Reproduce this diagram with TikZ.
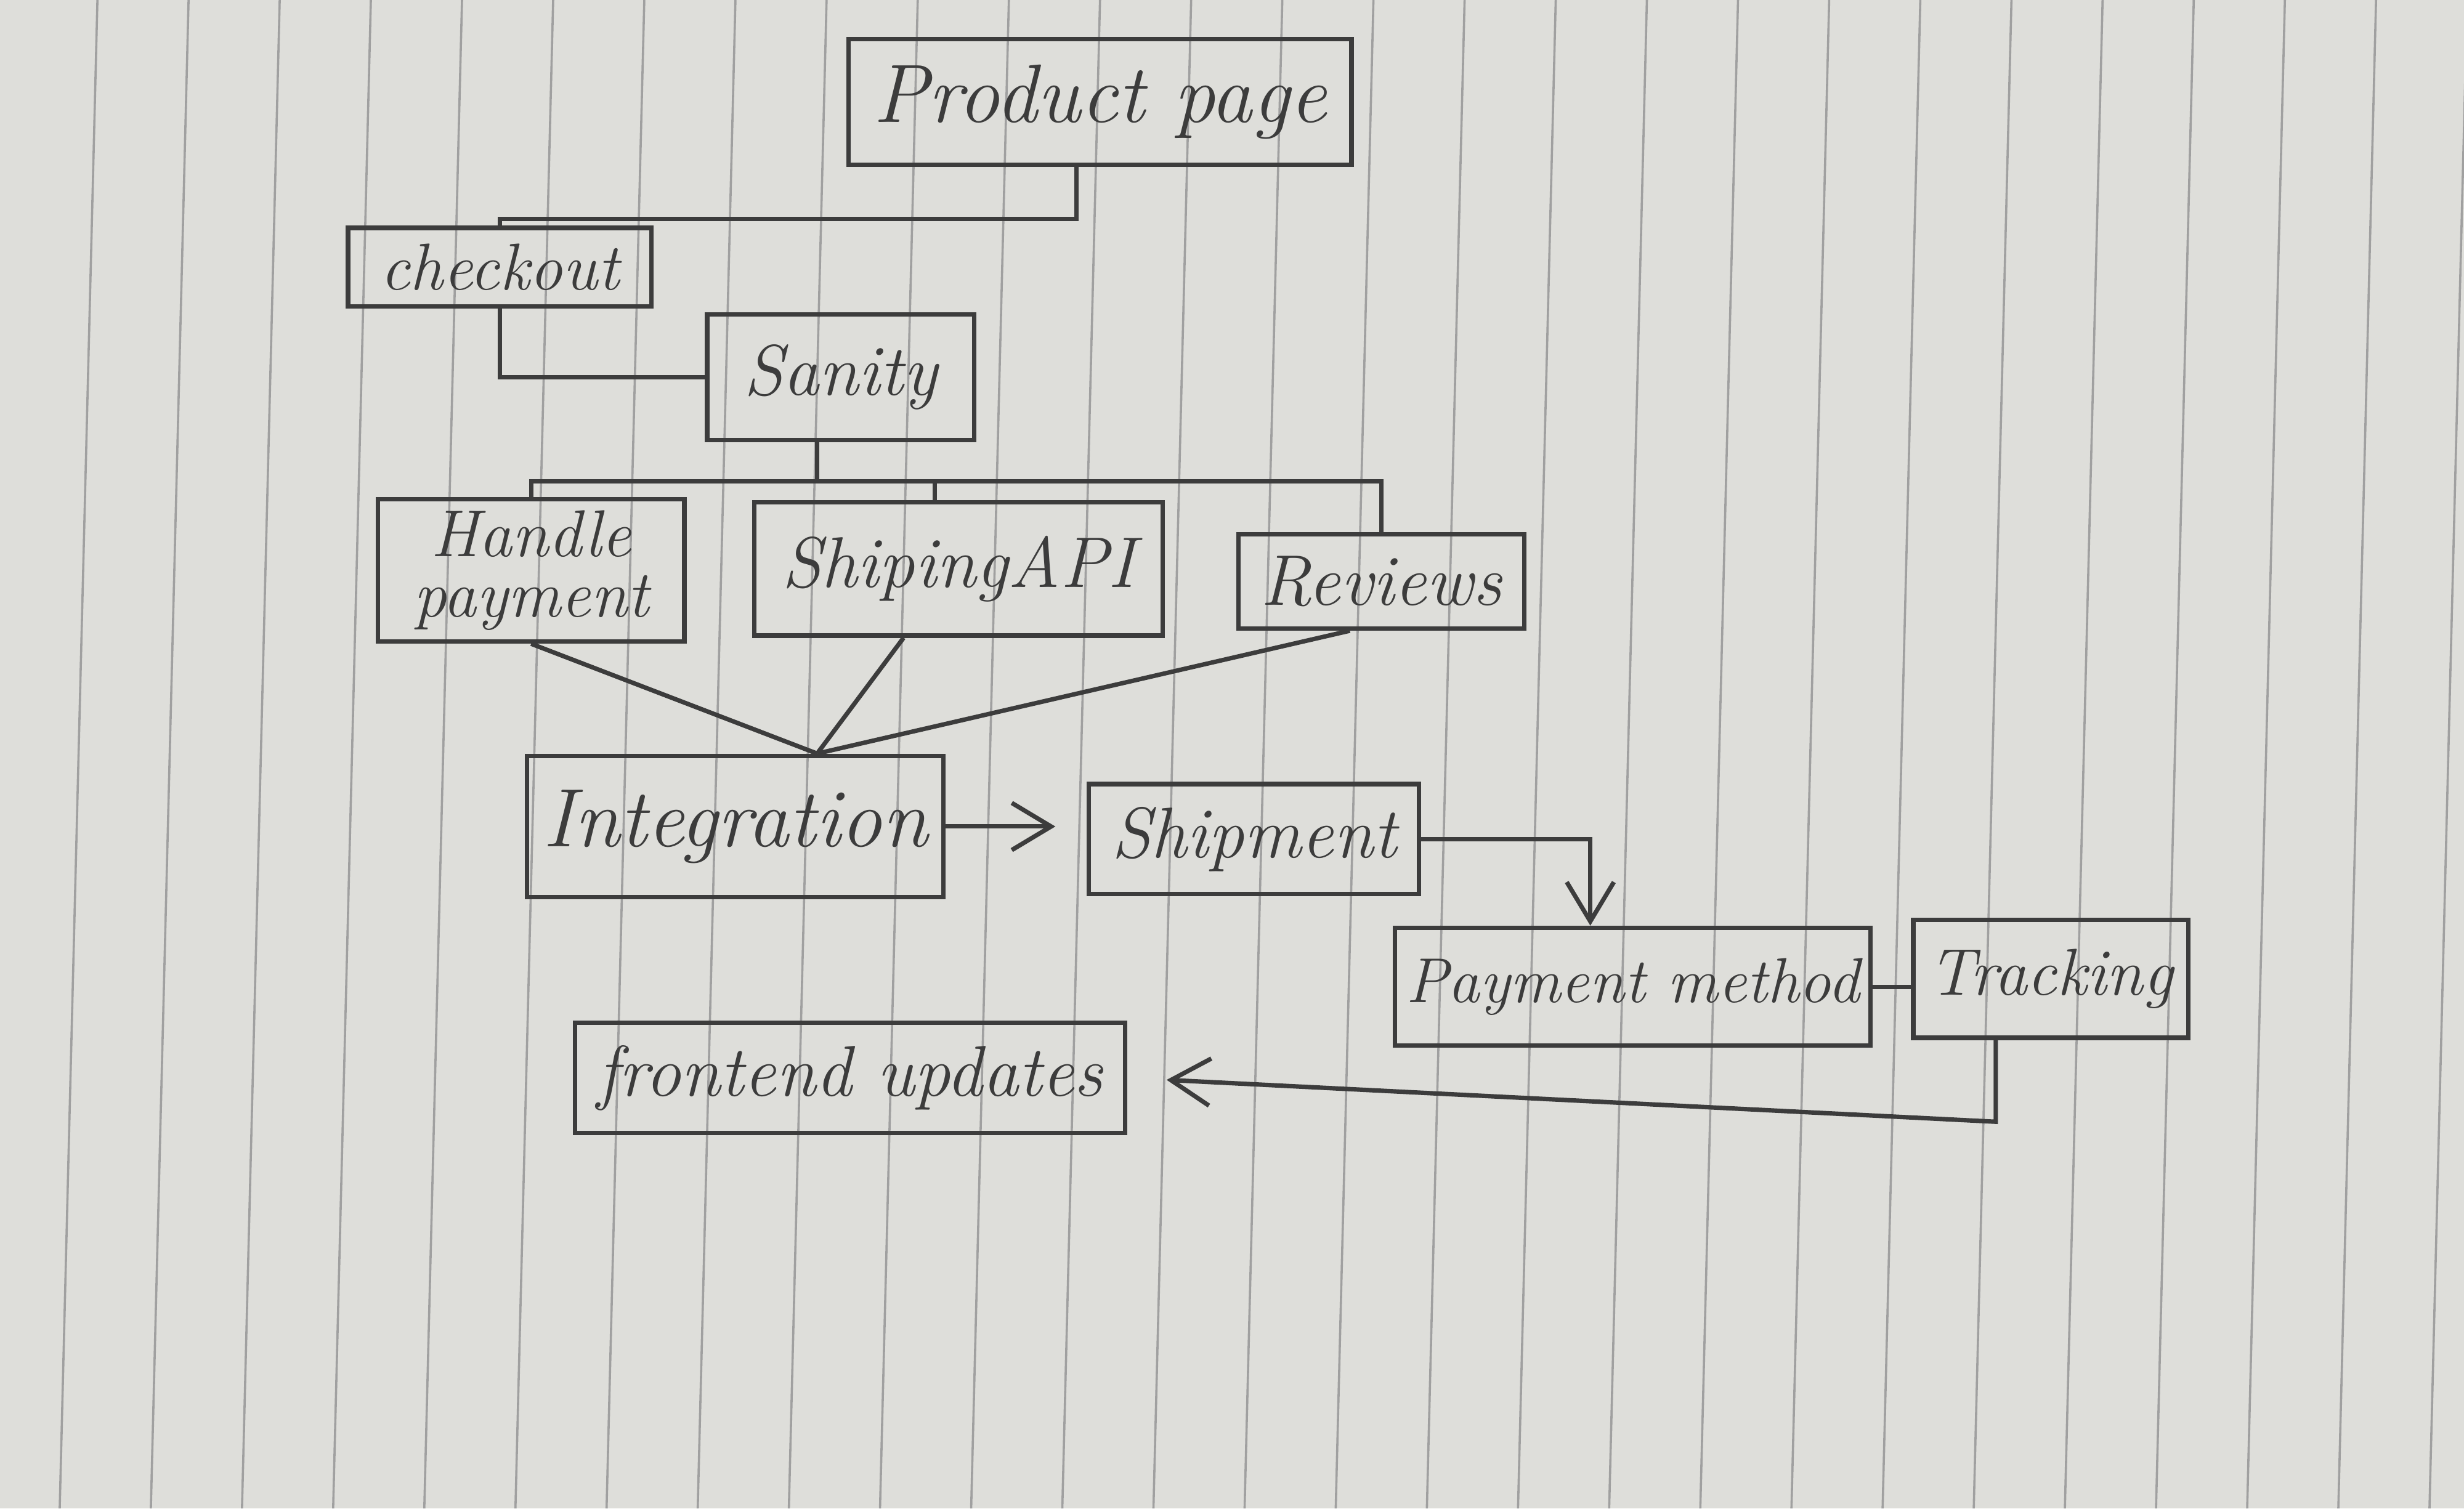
\documentclass[tikz,border=0pt]{standalone}
\usepackage{xcolor}
\usepackage{tikz}
\usetikzlibrary{arrows.meta, positioning, calc}
\definecolor{paperGray}{RGB}{222,222,218}
\definecolor{ruleGray}{RGB}{160,160,160}
\definecolor{pencil}{RGB}{60,60,60}
\tikzstyle{link}  = [draw=pencil, thick]
\tikzstyle{flow}  = [draw=pencil, thick, -{Straight Barb[length=2.5mm, width=3mm]}]

\begin{document}
\begin{tikzpicture}[
  box/.style={draw=pencil, thick, inner sep=2pt, align=center, font=\itshape, text=pencil},
  rule/.style={draw=ruleGray, line width=0.4pt}
]
  % Paper
  \fill[paperGray] (0,0) rectangle (15.68,-9.60);
  \useasboundingbox (0,0) rectangle (15.68,-9.60);
  \foreach \i in {0,...,26}
    \draw[rule] ({0.62+0.58*\i},0) -- ({0.38+0.58*\i},-9.60);

  % Top of the flow
  \node[box, minimum width=3.2cm, minimum height=0.8cm, font=\itshape\fontsize{15}{17}\selectfont] (product) at (7.00,-0.65) {Product page};
  \node[box, minimum width=1.93cm, minimum height=0.5cm, font=\itshape\fontsize{12}{14}\selectfont] (checkout) at (3.18,-1.70) {checkout};
  \node[box, minimum width=1.7cm, minimum height=0.8cm, font=\itshape\fontsize{13}{15}\selectfont] (sanity) at (5.35,-2.40) {Sanity};

  % Services
  \node[box, minimum width=1.95cm, minimum height=0.9cm, font=\itshape\fontsize{12}{11}\selectfont] (handle) at (3.38,-3.63) {Handle\\payment};
  \node[box, minimum width=2.6cm, minimum height=0.85cm, font=\itshape\fontsize{13}{15}\selectfont] (shipapi) at (6.10,-3.62) {ShipingAPI};
  \node[box, minimum width=1.82cm, minimum height=0.6cm, font=\itshape\fontsize{13}{15}\selectfont] (reviews) at (8.79,-3.70) {Reviews};

  % Lower steps
  \node[box, minimum width=2.65cm, minimum height=0.9cm, font=\itshape\fontsize{15}{17}\selectfont] (integration) at (4.68,-5.26) {Integration};
  \node[box, minimum width=2.1cm, minimum height=0.7cm, font=\itshape\fontsize{13}{15}\selectfont] (shipment) at (7.98,-5.34) {Shipment};
  \node[box, minimum width=2.9cm, minimum height=0.75cm, font=\itshape\fontsize{11.5}{14}\selectfont] (payment) at (10.39,-6.28) {Payment method};
  \node[box, minimum width=1.75cm, minimum height=0.75cm, font=\itshape\fontsize{12}{14}\selectfont] (tracking) at (13.05,-6.23) {Tracking};
  \node[box, minimum width=3.5cm, minimum height=0.7cm, font=\itshape\fontsize{13}{15}\selectfont] (frontend) at (5.41,-6.86) {frontend updates};

  % Connections
  \draw[link] ([xshift=-1.5mm]product.south) -- ++(0,-0.33) -| (checkout.north);
  \draw[link] (checkout.south) |- (sanity.west);
  \draw[link] ([xshift=-1.5mm]sanity.south) -- ++(0,-0.25) coordinate (split);
  \draw[link] (handle.north) -- (handle.north |- split) -- (reviews.north |- split) -- (reviews.north);
  \draw[link] ([xshift=-1.5mm]shipapi.north) -- ([xshift=-1.5mm]shipapi.north |- split);

  \coordinate (meet) at ([xshift=5.2mm]integration.north);
  \draw[link] (handle.south) -- (meet);
  \draw[link] ([xshift=-3.5mm]shipapi.south) -- (meet);
  \draw[link] ([xshift=-2mm]reviews.south) -- (meet);

  \draw[flow, shorten >=2mm] (integration.east) -- (integration.east -| shipment.west);
  \draw[flow] (shipment.east) -| ([xshift=-2.7mm]payment.north);
  \draw[link] (payment.east) -- (payment.east -| tracking.west);
  \draw[flow, shorten >=2.5mm] ([xshift=-3.5mm]tracking.south) -- ++(0,-0.52) -- (frontend.east);

\end{tikzpicture}
\end{document}
